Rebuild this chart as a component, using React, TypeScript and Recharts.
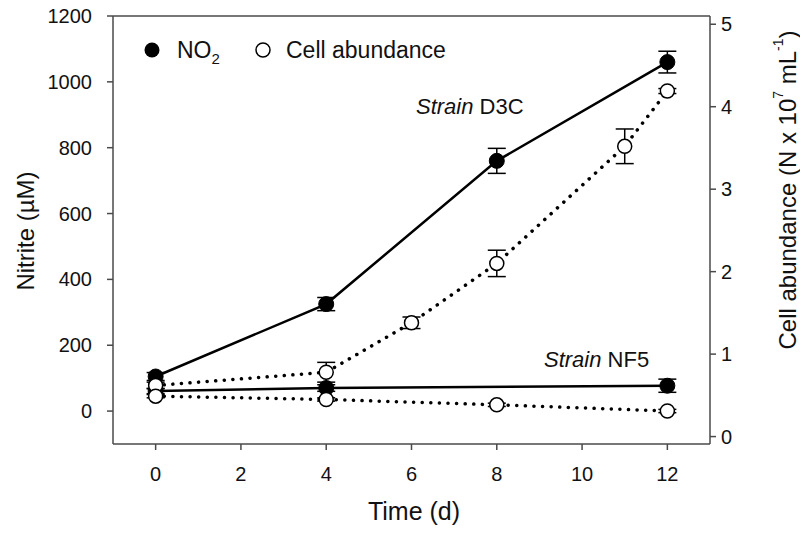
import React from "react";
import {
  ComposedChart,
  Line,
  XAxis,
  YAxis,
  ErrorBar,
  ReferenceLine,
} from "recharts";

// Strain D3C
const d3cNitriteDays = [0, 4, 8, 12];
const d3cNitrite = [105, 325, 760, 1060];
const d3cNitriteErr = [12, 20, 38, 33];

const d3cCellDays = [0, 4, 6, 8, 11, 12];
const d3cCells = [0.62, 0.78, 1.38, 2.1, 3.52, 4.19];
const d3cCellsErr = [0.04, 0.12, 0.07, 0.16, 0.21, 0.03];

// Strain NF5
const nf5NitriteDays = [0, 4, 12];
const nf5Nitrite = [61, 70, 77];
const nf5NitriteErr = [8, 10, 20];

const nf5CellDays = [0, 4, 8, 12];
const nf5Cells = [0.49, 0.45, 0.385, 0.31];
const nf5CellsErr = [0.02, 0.02, 0.02, 0.02];

const xTicks = [0, 2, 4, 6, 8, 10, 12];
const leftTicks = [0, 200, 400, 600, 800, 1000, 1200];
const rightTicks = [0, 1, 2, 3, 4, 5];

const toRows = (days: number[], vals: number[], errs: number[]) =>
  days.map((d, i) => ({ day: d, value: vals[i], err: errs[i] }));

const AXIS = "#4a4a4a";
const FONT = "'Liberation Sans', Arial, Helvetica, sans-serif";

const tickStyle = { fontSize: 20, fill: "#111", fontFamily: FONT };

const filledDot = { r: 7.5, fill: "#000", stroke: "#000", strokeWidth: 1, strokeDasharray: "none" };
const openDot = { r: 7, fill: "#fff", stroke: "#000", strokeWidth: 1.5, strokeDasharray: "none" };

export default function App() {
  return (
    <div style={{ position: "absolute", left: 0, top: 0, background: "#fff" }}>
      <ComposedChart
        width={800}
        height={533}
        margin={{ top: 16, right: 0, bottom: 0, left: 0 }}
        style={{ fontFamily: FONT }}
      >
        <XAxis
          dataKey="day"
          type="number"
          domain={[-1, 13]}
          ticks={xTicks}
          allowDataOverflow
          height={89}
          tickSize={6}
          tickMargin={17}
          tick={tickStyle}
          stroke={AXIS}
          strokeWidth={1.5}
        />
        <YAxis
          yAxisId="left"
          type="number"
          domain={[-100, 1200]}
          ticks={leftTicks}
          allowDataOverflow
          width={113}
          tickSize={6}
          tickMargin={15}
          tick={tickStyle}
          stroke={AXIS}
          strokeWidth={1.5}
        />
        <YAxis
          yAxisId="right"
          orientation="right"
          type="number"
          domain={[-0.09, 5.1]}
          ticks={rightTicks}
          allowDataOverflow
          width={90}
          tickSize={6}
          tickMargin={5}
          tick={tickStyle}
          stroke={AXIS}
          strokeWidth={1.5}
        />
        <ReferenceLine yAxisId="left" y={1200} stroke={AXIS} strokeWidth={1.5} />

        <Line
          yAxisId="left"
          data={toRows(d3cNitriteDays, d3cNitrite, d3cNitriteErr)}
          dataKey="value"
          type="linear"
          stroke="#000"
          strokeWidth={2.5}
          dot={filledDot}
          isAnimationActive={false}
        >
          <ErrorBar dataKey="err" direction="y" width={9} stroke="#000" strokeWidth={1.5} />
        </Line>
        <Line
          yAxisId="left"
          data={toRows(nf5NitriteDays, nf5Nitrite, nf5NitriteErr)}
          dataKey="value"
          type="linear"
          stroke="#000"
          strokeWidth={2.5}
          dot={filledDot}
          isAnimationActive={false}
        >
          <ErrorBar dataKey="err" direction="y" width={9} stroke="#000" strokeWidth={1.5} />
        </Line>
        <Line
          yAxisId="right"
          data={toRows(d3cCellDays, d3cCells, d3cCellsErr)}
          dataKey="value"
          type="linear"
          stroke="#000"
          strokeWidth={3.5}
          strokeDasharray="0.1 8.5"
          strokeLinecap="round"
          dot={openDot}
          isAnimationActive={false}
        >
          <ErrorBar dataKey="err" direction="y" width={9} stroke="#000" strokeWidth={1.5} />
        </Line>
        <Line
          yAxisId="right"
          data={toRows(nf5CellDays, nf5Cells, nf5CellsErr)}
          dataKey="value"
          type="linear"
          stroke="#000"
          strokeWidth={3.5}
          strokeDasharray="0.1 8.5"
          strokeLinecap="round"
          dot={openDot}
          isAnimationActive={false}
        >
          <ErrorBar dataKey="err" direction="y" width={9} stroke="#000" strokeWidth={1.5} />
        </Line>

        {/* legend */}
        <circle cx={152} cy={50} r={7.5} fill="#000" />
        <text x={177} y={58} fontSize={23} fill="#111" fontFamily={FONT}>
          NO<tspan dy={6} fontSize={15}>2</tspan>
        </text>
        <circle cx={263} cy={50} r={7} fill="#fff" stroke="#000" strokeWidth={1.5} />
        <text x={286} y={58} fontSize={23} fill="#111" fontFamily={FONT}>
          Cell abundance
        </text>

        {/* strain labels */}
        <text x={416} y={114} fontSize={22} fill="#111" fontFamily={FONT}>
          <tspan fontStyle="italic">Strain</tspan> D3C
        </text>
        <text x={544} y={367} fontSize={22} fill="#111" fontFamily={FONT}>
          <tspan fontStyle="italic">Strain</tspan> NF5
        </text>

        {/* axis titles */}
        <text
          x={25}
          y={231}
          transform="rotate(-90, 25, 231)"
          textAnchor="middle"
          dominantBaseline="central"
          fontSize={24}
          fill="#111"
          fontFamily={FONT}
        >
          Nitrite (µM)
        </text>
        <text
          x={787}
          y={190}
          transform="rotate(-90, 787, 190)"
          textAnchor="middle"
          dominantBaseline="central"
          fontSize={24}
          fill="#111"
          fontFamily={FONT}
        >
          Cell abundance (N x 10<tspan dy={-9} fontSize={14}>7</tspan>
          <tspan dy={9}> mL</tspan>
          <tspan dy={-9} fontSize={14}>-1</tspan>
          <tspan dy={9}>)</tspan>
        </text>
        <text
          x={414}
          y={520}
          textAnchor="middle"
          fontSize={25}
          fill="#111"
          fontFamily={FONT}
        >
          Time (d)
        </text>
      </ComposedChart>
    </div>
  );
}
